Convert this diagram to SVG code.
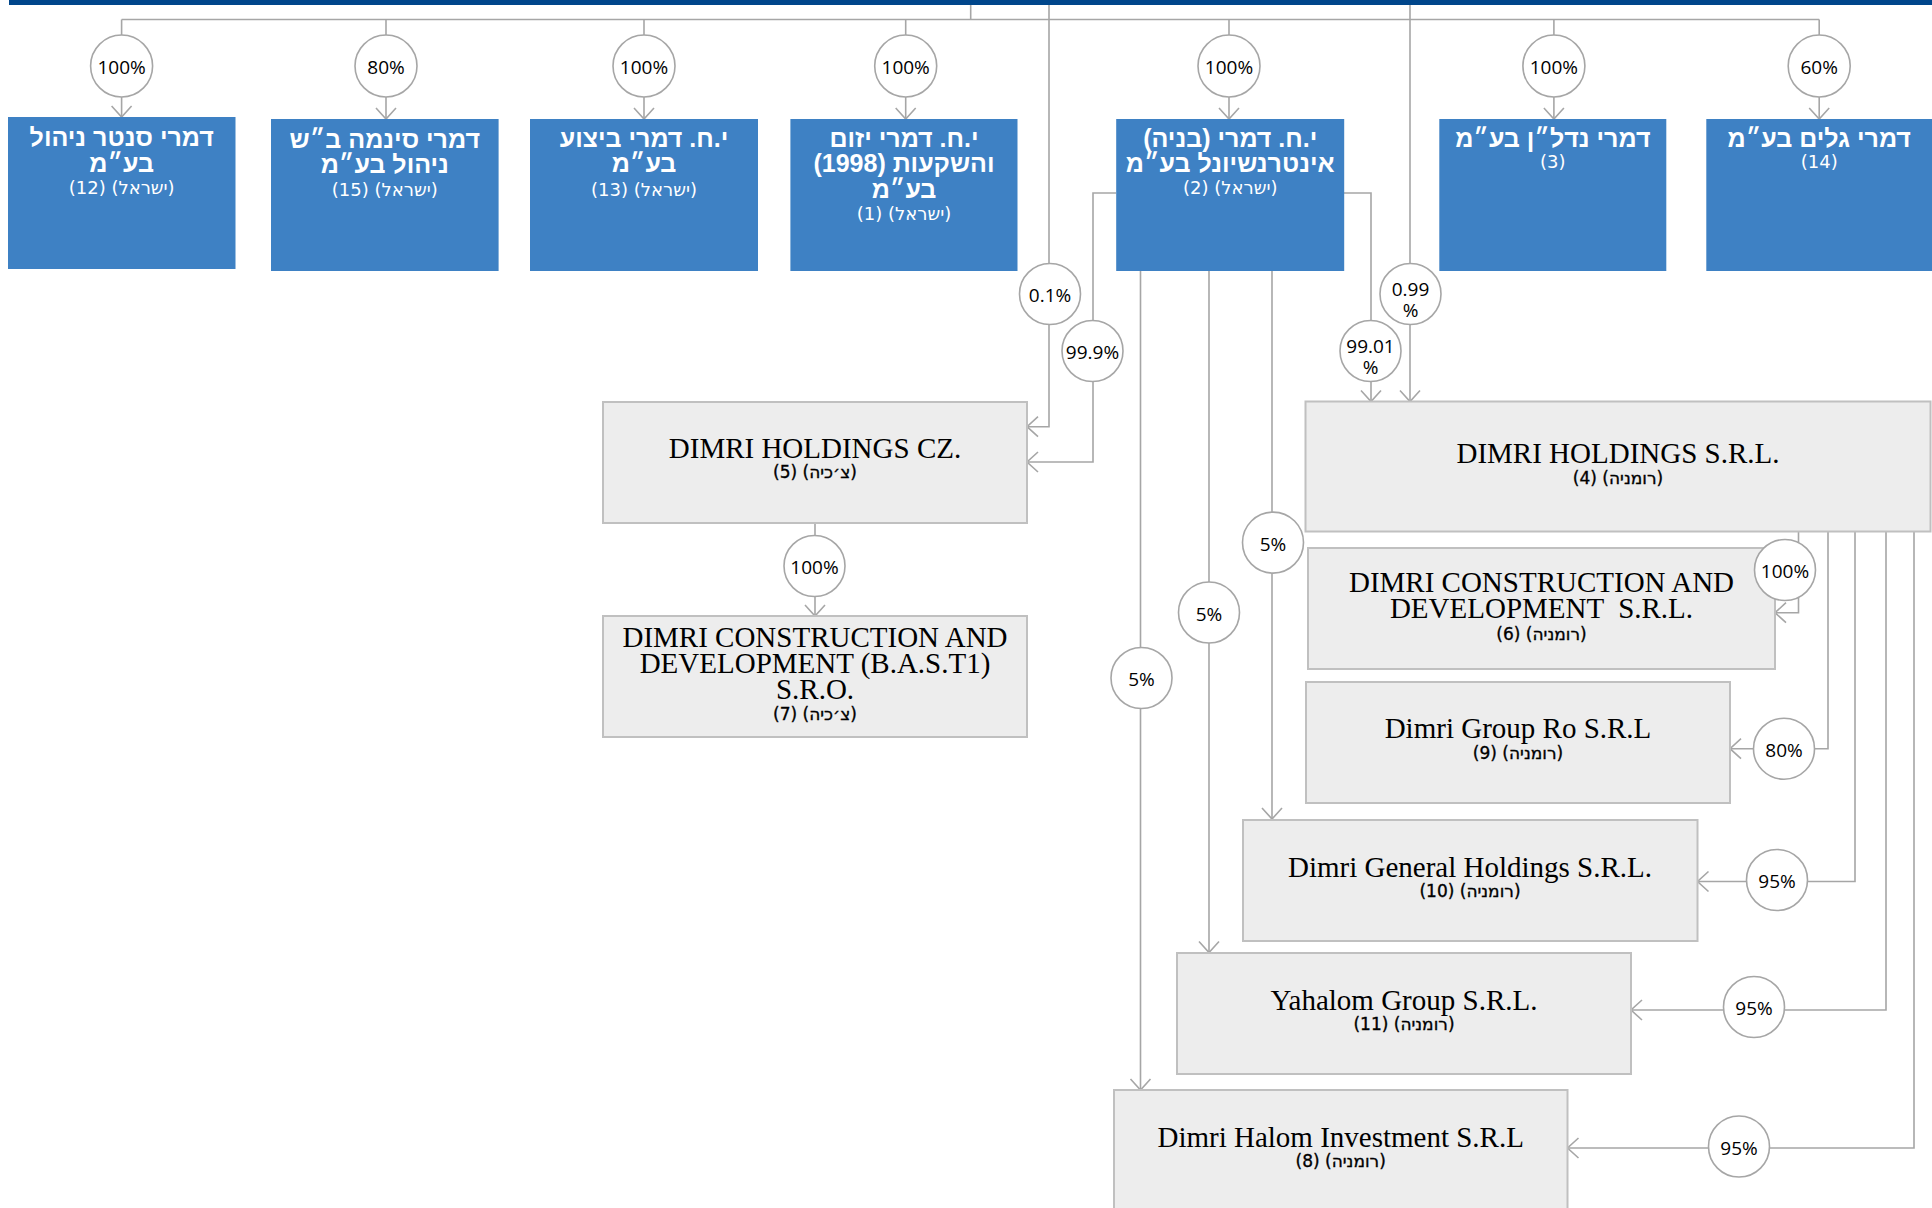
<svg xmlns="http://www.w3.org/2000/svg" width="1932" height="1208" viewBox="0 0 1932 1208">
<defs>
<marker id="arr" viewBox="-13 -12 26 24" markerWidth="26" markerHeight="24" refX="0" refY="0" orient="auto" markerUnits="userSpaceOnUse">
<path d="M -11 -10 L 0 0 L -11 10" fill="none" stroke="#a6a6a6" stroke-width="1.6"/>
</marker>
<style>
.conn{fill:none;stroke:#a6a6a6;stroke-width:1.6}
.ar{marker-end:url(#arr)}
.pct circle{fill:#fff;stroke:#a6a6a6;stroke-width:1.6}
.pct text{font-family:"Open Sans","Liberation Sans",sans-serif;font-size:19px;fill:#000;text-anchor:middle}
.blue rect{fill:#3e81c4}
.blue text{fill:#fff;text-anchor:middle;direction:rtl}
.blue .h{font-family:"Liberation Sans","DejaVu Sans",sans-serif;font-weight:bold;font-size:25px}
.blue .s{font-family:"DejaVu Sans",sans-serif;font-size:18px}
.gray rect{fill:#ededed;stroke:#c0c0c0;stroke-width:2}
.gray text{fill:#000;text-anchor:middle}
.gray .t{font-family:"Liberation Serif",serif;font-size:29px}
.gray .s{font-family:"DejaVu Sans",sans-serif;font-size:17px;stroke:#000;stroke-width:0.35;direction:rtl}
</style>
</defs>
<rect x="9" y="0" width="1923" height="5" fill="#00468b"/>

<g id="connectors">
<path class="conn" d="M970.7 5 V19.5"/>
<path class="conn" d="M121.6 19.5 H1819.2"/>
<path class="conn ar" d="M121.6 19.5 V117"/>
<path class="conn ar" d="M386 19.5 V119"/>
<path class="conn ar" d="M644 19.5 V119"/>
<path class="conn ar" d="M905.7 19.5 V119"/>
<path class="conn ar" d="M1229 19.5 V119"/>
<path class="conn ar" d="M1553.9 19.5 V119"/>
<path class="conn ar" d="M1819.2 19.5 V119"/>
<path class="conn ar" d="M1049 5 V426.7 H1027"/>
<path class="conn ar" d="M1116 193 H1093 V462 H1027"/>
<path class="conn ar" d="M1344 193 H1371 V401.5"/>
<path class="conn ar" d="M1410 5 V401.5"/>
<path class="conn ar" d="M1272 271 V819"/>
<path class="conn ar" d="M1209 271 V952.5"/>
<path class="conn ar" d="M1140.5 271 V1090"/>
<path class="conn ar" d="M815 523 V616"/>
<path class="conn ar" d="M1798.5 531.5 V612.7 H1775"/>
<path class="conn ar" d="M1828 531.5 V748.7 H1730"/>
<path class="conn ar" d="M1855 531.5 V881.5 H1697.5"/>
<path class="conn ar" d="M1886 531.5 V1010 H1631"/>
<path class="conn ar" d="M1914 531.5 V1148 H1567.5"/>
</g>

<g id="n12" class="blue"><rect x="8" y="117" width="227.5" height="152"/>
<text class="h" x="121.7" y="146">דמרי סנטר ניהול</text><text class="h" x="121.7" y="172">בע״מ</text><text class="s" x="121.7" y="194">(ישראל) (12)</text></g>
<g id="n15" class="blue"><rect x="271" y="119" width="227.6" height="152"/>
<text class="h" x="384.8" y="148">דמרי סינמה ב״ש</text><text class="h" x="384.8" y="173">ניהול בע״מ</text><text class="s" x="384.8" y="196">(ישראל) (15)</text></g>
<g id="n13" class="blue"><rect x="530" y="119" width="228" height="152"/>
<text class="h" x="644" y="147">י.ח. דמרי ביצוע</text><text class="h" x="644" y="172">בע״מ</text><text class="s" x="644" y="195.5">(ישראל) (13)</text></g>
<g id="n1" class="blue"><rect x="790.4" y="119" width="227.1" height="152"/>
<text class="h" x="904" y="147">י.ח. דמרי יזום</text><text class="h" x="904" y="172">והשקעות (1998)</text><text class="h" x="904" y="198">בע״מ</text><text class="s" x="904" y="220">(ישראל) (1)</text></g>
<g id="n2" class="blue"><rect x="1116.2" y="119" width="228" height="152"/>
<text class="h" x="1230.2" y="147">י.ח. דמרי (בניה)</text><text class="h" x="1230.2" y="172">אינטרנשיונל בע״מ</text><text class="s" x="1230.2" y="194">(ישראל) (2)</text></g>
<g id="n3" class="blue"><rect x="1439.3" y="119" width="227" height="152"/>
<text class="h" x="1552.8" y="147">דמרי נדל״ן בע״מ</text><text class="s" x="1552.8" y="167.5">(3)</text></g>
<g id="n14" class="blue"><rect x="1706.3" y="119" width="227" height="152"/>
<text class="h" x="1819.2" y="147">דמרי גלים בע״מ</text><text class="s" x="1819.2" y="167.5">(14)</text></g>

<g id="n5" class="gray"><rect x="603" y="402" width="424" height="121"/>
<text class="t" x="815" y="458">DIMRI HOLDINGS CZ.</text><text class="s" x="815" y="478">(צ׳כיה) (5)</text></g>
<g id="n7" class="gray"><rect x="603" y="616" width="424" height="121"/>
<text class="t" x="815" y="647">DIMRI CONSTRUCTION AND</text><text class="t" x="815" y="673">DEVELOPMENT (B.A.S.T1)</text><text class="t" x="815" y="698.5">S.R.O.</text><text class="s" x="815" y="719.5">(צ׳כיה) (7)</text></g>
<g id="n4" class="gray"><rect x="1305.5" y="401.5" width="625" height="130"/>
<text class="t" x="1618" y="463">DIMRI HOLDINGS S.R.L.</text><text class="s" x="1618" y="484">(רומניה) (4)</text></g>
<g id="n6" class="gray"><rect x="1308" y="548" width="467" height="121"/>
<text class="t" x="1541.5" y="592">DIMRI CONSTRUCTION AND</text><text class="t" x="1541.5" y="618" xml:space="preserve">DEVELOPMENT  S.R.L.</text><text class="s" x="1541.5" y="639.5">(רומניה) (6)</text></g>
<g id="n9" class="gray"><rect x="1306" y="682" width="424" height="121"/>
<text class="t" x="1518" y="738">Dimri Group Ro S.R.L</text><text class="s" x="1518" y="759">(רומניה) (9)</text></g>
<g id="n10" class="gray"><rect x="1243" y="820" width="454.5" height="121"/>
<text class="t" x="1470" y="876.5">Dimri General Holdings S.R.L.</text><text class="s" x="1470" y="897">(רומניה) (10)</text></g>
<g id="n11" class="gray"><rect x="1177" y="953" width="454" height="121"/>
<text class="t" x="1404" y="1009.5">Yahalom Group S.R.L.</text><text class="s" x="1404" y="1030">(רומניה) (11)</text></g>
<g id="n8" class="gray"><rect x="1114" y="1090" width="453.5" height="140"/>
<text class="t" x="1340.7" y="1147">Dimri Halom Investment S.R.L</text><text class="s" x="1340.7" y="1167">(רומניה) (8)</text></g>

<g id="labels" class="pct">
<circle cx="121.6" cy="66" r="31"/><text x="121.6" y="74">100%</text>
<circle cx="386" cy="66" r="31"/><text x="386" y="74">80%</text>
<circle cx="644" cy="66" r="31"/><text x="644" y="74">100%</text>
<circle cx="905.7" cy="66" r="31"/><text x="905.7" y="74">100%</text>
<circle cx="1229" cy="66" r="31"/><text x="1229" y="74">100%</text>
<circle cx="1553.9" cy="66" r="31"/><text x="1553.9" y="74">100%</text>
<circle cx="1819.2" cy="66" r="31"/><text x="1819.2" y="74">60%</text>
<circle cx="1050" cy="294" r="30.5"/><text x="1050" y="302">0.1%</text>
<circle cx="1092.5" cy="351" r="30.5"/><text x="1092.5" y="359">99.9%</text>
<circle cx="1410.5" cy="294" r="30.5"/><text x="1410.5" y="296">0.99</text><text x="1410.5" y="317">%</text>
<circle cx="1370.5" cy="351" r="30.5"/><text x="1370.5" y="353">99.01</text><text x="1370.5" y="374">%</text>
<circle cx="1273" cy="542.6" r="30.5"/><text x="1273" y="550.6">5%</text>
<circle cx="1209" cy="612.5" r="30.5"/><text x="1209" y="620.5">5%</text>
<circle cx="1141.5" cy="678" r="30.5"/><text x="1141.5" y="686">5%</text>
<circle cx="814.5" cy="566" r="30.5"/><text x="814.5" y="574">100%</text>
<circle cx="1785" cy="570" r="30.5"/><text x="1785" y="578">100%</text>
<circle cx="1784" cy="748.7" r="30.5"/><text x="1784" y="756.7">80%</text>
<circle cx="1777" cy="880" r="30.5"/><text x="1777" y="888">95%</text>
<circle cx="1754" cy="1007" r="30.5"/><text x="1754" y="1015">95%</text>
<circle cx="1739" cy="1146.5" r="30.5"/><text x="1739" y="1154.5">95%</text>
</g>
</svg>
